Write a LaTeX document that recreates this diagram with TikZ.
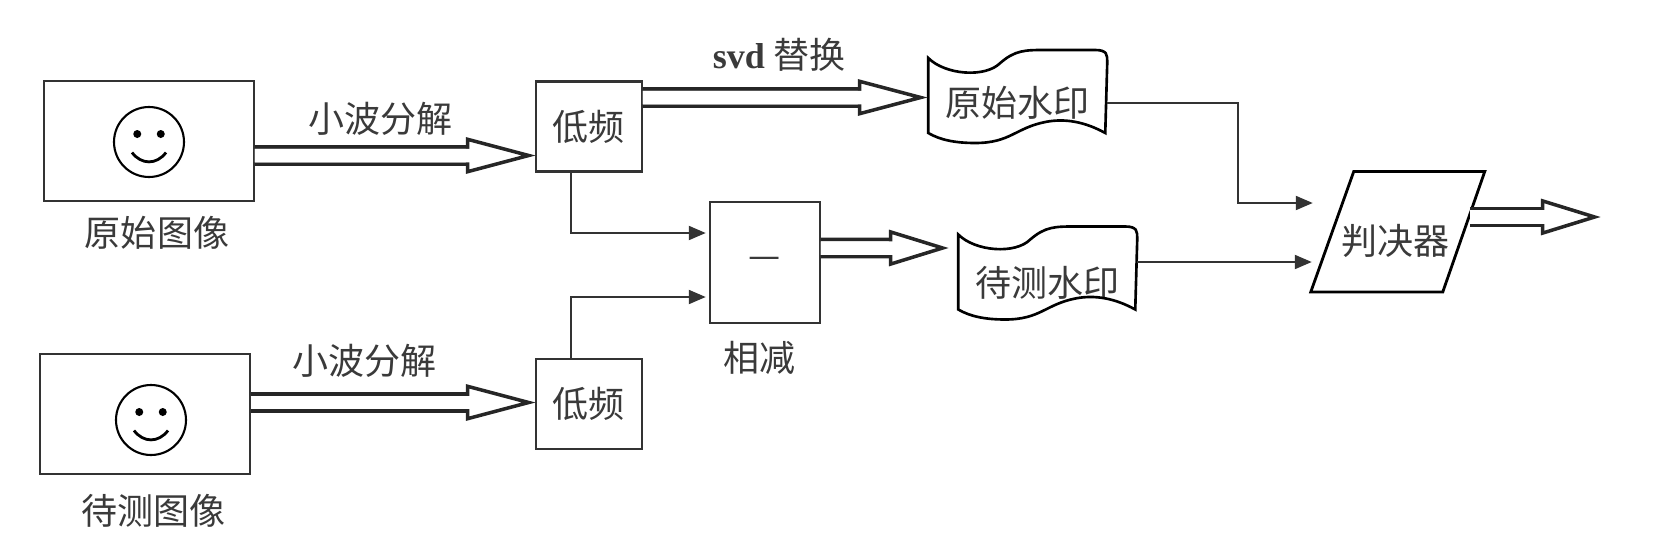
\documentclass[tikz,border=0pt]{standalone}
\usepackage{fontspec}
\setmainfont{Liberation Serif}
\newfontfamily\cjk{Noto Sans CJK SC}
\usepackage{xcolor}
\usepackage{tikz}
\usetikzlibrary{arrows.meta,positioning,calc}
\definecolor{stroke}{HTML}{333333}
\definecolor{ink}{HTML}{3A3A3A}
\tikzset{
  boxbase/.style={draw=stroke,line width=1.3pt,outer sep=0pt,inner sep=0pt,align=center,text=ink,
    font=\cjk\fontsize{20.5}{24}\selectfont},
  imgbox/.style={boxbase,minimum width=4.19cm,minimum height=2.39cm},
  lowbox/.style={boxbase,minimum width=2.12cm,minimum height=1.8cm},
  subbox/.style={boxbase,minimum width=2.2cm,minimum height=2.42cm},
  markbox/.style={boxbase,draw=none,minimum width=3.58cm,minimum height=1.9cm},
  judgebox/.style={boxbase,draw=none,minimum width=3cm,minimum height=1.9cm},
  labeltext/.style={text=ink,inner sep=0pt,font=\cjk\fontsize{20.5}{24}\selectfont},
  hollow/.style={draw=black!85,line width=2pt,double=white,double distance=0.27cm,shorten <=0.65pt,
    -{Triangle[open,fill=white,length=#1,width=0.72cm,line width=2pt]},
    postaction={draw=white,line width=0.27cm,-,shorten <=0.65pt,shorten >=#1-0.1cm}},
  hollow/.default=1.4cm,
  thinarrow/.style={-{Triangle[length=3.4mm,width=2.8mm]},draw=stroke,line width=1.2pt},
  smiley/.pic={
    \draw[stroke,line width=1.2pt] (0,0) circle (0.7);
    \fill[stroke] (-0.235,0.16) circle (0.08) (0.235,0.16) circle (0.08);
    \draw[stroke,line width=1.6pt] (-0.34,-0.21) .. controls (-0.15,-0.46) and (0.15,-0.46) .. (0.34,-0.21);
  },
  wavebody/.pic={
    \draw[stroke,line width=1.5pt] (-1.78,0.77) .. controls (-1.44,0.43) and (-0.64,0.37) .. (-0.34,0.67)
      .. controls (-0.04,0.93) and (0.16,0.93) .. (0.56,0.93) -- (1.56,0.93)
      .. controls (1.8,0.93) and (1.8,0.83) .. (1.8,0.69) -- (1.76,-0.73)
      .. controls (1.36,-0.51) and (0.96,-0.43) .. (0.56,-0.51)
      .. controls (-0.04,-0.63) and (-0.14,-0.93) .. (-0.84,-0.93)
      .. controls (-1.24,-0.93) and (-1.54,-0.87) .. (-1.78,-0.73) -- cycle;
  },
  slantbody/.pic={
    \draw[stroke,line width=1.6pt] (-0.84,1.39) -- (1.78,1.39) -- (0.94,-1.02) -- (-1.7,-1.02) -- cycle;
  }
}
\begin{document}
\begin{tikzpicture}
  \useasboundingbox (0,0) rectangle (33.2,11.16);
  \node[imgbox] (img1) at (2.98,8.34) {};
  \node[lowbox,right=5.64cm of img1,yshift=0.29cm] (lowa) {低频};
  \node[lowbox,below=3.75cm of lowa] (lowb) {低频};
  \node[imgbox,left=5.72cm of lowb,yshift=-0.2cm] (img2) {};
  \node[subbox,right=1.36cm of lowa,yshift=-2.72cm] (sub) {—};
  \node[markbox,right=5.72cm of lowa,yshift=0.47cm] (marka) {原始水印};
  \node[markbox,below=1.7cm of marka,xshift=0.6cm] (markb) {待测水印};
  \node[judgebox,right=3.68cm of markb,yshift=0.84cm] (judge) {判决器};
  \node[labeltext,below=0.3cm of img1,xshift=0.16cm] (capa) {原始图像};
  \node[labeltext,below=0.4cm of img2,xshift=0.17cm] (capb) {待测图像};
  \node[labeltext,below=0.35cm of sub,xshift=-0.1cm] (caps) {相减};
  % faces and paper bodies
  \pic at ([yshift=-0.02cm]img1.center) {smiley};
  \pic at ([xshift=0.12cm,yshift=-0.12cm]img2.center) {smiley};
  \pic at ([yshift=0.13cm]marka.center) {wavebody};
  \pic at ([yshift=0.2cm]markb.center) {wavebody};
  \pic at (judge.center) {slantbody};
  % wide arrows
  \draw[hollow] ([yshift=-0.29cm]img1.east) -- node[labeltext,pos=0.45,yshift=0.74cm] {小波分解} ([yshift=-0.58cm]lowa.west);
  \draw[hollow] ([yshift=0.23cm]img2.east) -- node[labeltext,pos=0.4,yshift=0.84cm] {小波分解} ([yshift=0.03cm]lowb.west);
  \draw[hollow] ([yshift=0.58cm]lowa.east) -- node[labeltext,pos=0.48,yshift=0.86cm] {{\rmfamily\bfseries svd} 替换} ([yshift=0.11cm]marka.west);
  \draw[hollow=1.2cm] ([yshift=0.29cm]sub.east) -- ([xshift=-0.18cm,yshift=0.7cm]markb.west);
  \draw[hollow=1.2cm] ([xshift=-0.04cm,yshift=0.48cm]judge.east) -- ++(2.64,0);
  % thin arrows
  \draw[thinarrow] ([xshift=-0.35cm]lowa.south) |- ([xshift=-0.08cm,yshift=0.59cm]sub.west);
  \draw[thinarrow] ([xshift=-0.35cm]lowb.north) |- ([xshift=-0.08cm,yshift=-0.69cm]sub.west);
  \draw[thinarrow] (marka.east) -- ++(2.62,0) |- ([xshift=-0.16cm,yshift=0.76cm]judge.west);
  \draw[thinarrow] ([yshift=0.42cm]markb.east) -- ([xshift=-0.18cm,yshift=-0.42cm]judge.west);
\end{tikzpicture}
\end{document}
